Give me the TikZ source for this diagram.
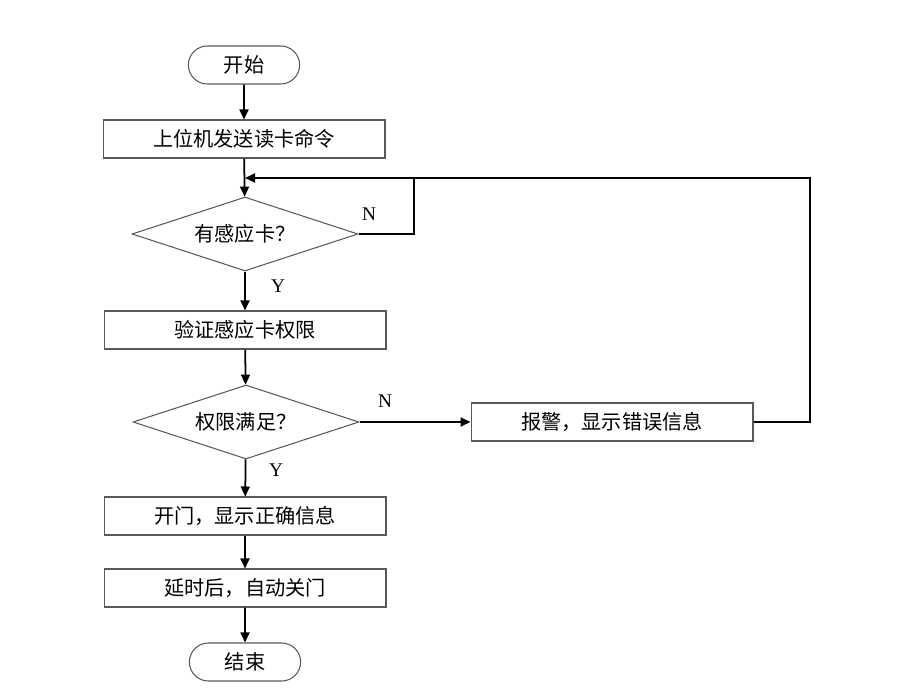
\documentclass[tikz,border=0pt]{standalone}
\usepackage{fontspec}
\setmainfont{Liberation Serif}
\newfontfamily\cjk{Noto Sans CJK SC}
\usetikzlibrary{arrows.meta,shapes.geometric,shapes.misc}
\tikzstyle{term}=[rounded rectangle, draw=black!65, line width=0.6pt,% start and end
minimum width=2.46cm, minimum height=0.76cm, font=\cjk\fontsize{11.5}{14}\selectfont]
\tikzstyle{proc}=[rectangle, draw=black!65, line width=0.6pt,
minimum width=5.64cm, minimum height=0.76cm, font=\cjk\fontsize{11.5}{14}\selectfont]
\tikzstyle{decide}=[diamond, draw=black!65, line width=0.6pt, aspect=3, inner sep=0pt,
minimum width=4.52cm, minimum height=1.48cm, font=\cjk\fontsize{11.5}{14}\selectfont]
\tikzstyle{flow}=[-{Triangle[length=2mm,width=1.8mm]}, line width=1pt]
\tikzstyle{wire}=[line width=1pt]
\tikzstyle{yn}=[font=\fontsize{11}{13}\selectfont]

\begin{document}
\begin{tikzpicture}[x=0.02cm,y=-0.02cm]
\useasboundingbox (0,0) rectangle (915,692);
\node[term] (start) at (244,65) {开始};
\node[proc] (cmd) at (244,139) {上位机发送读卡命令};
\node[decide] (chk) at (245,234) {有感应卡？};
\node[proc] (verify) at (245,330) {验证感应卡权限};
\node[decide] (perm) at (246,422) {权限满足？};
\node[proc] (alarm) at (612,422) {报警，显示错误信息};
\node[proc] (open) at (245,516) {开门，显示正确信息};
\node[proc] (close) at (245,588) {延时后，自动关门};
\node[term] (stop) at (245,662) {结束};
\coordinate (join) at (245,178);
\coordinate (loopN) at (414,178);
\coordinate (loopR) at (810,178);
\node[yn] (n1) at (369,214) {N};
\node[yn] (y1) at (278,286) {Y};
\node[yn] (n2) at (385,401) {N};
\node[yn] (y2) at (276,470) {Y};
\draw [flow] (start) -- (cmd);
\draw [flow] (cmd) -- (chk);
\draw [flow] (chk) -- (verify);
\draw [flow] (verify) -- (perm);
\draw [flow] (perm) -- (alarm);
\draw [flow] (perm) -- (open);
\draw [flow] (open) -- (close);
\draw [flow] (close) -- (stop);
\draw [wire] (chk.east) -| (loopN);
\draw [flow] (alarm.east) -| (loopR) -- (join);
\end{tikzpicture}
\end{document}
